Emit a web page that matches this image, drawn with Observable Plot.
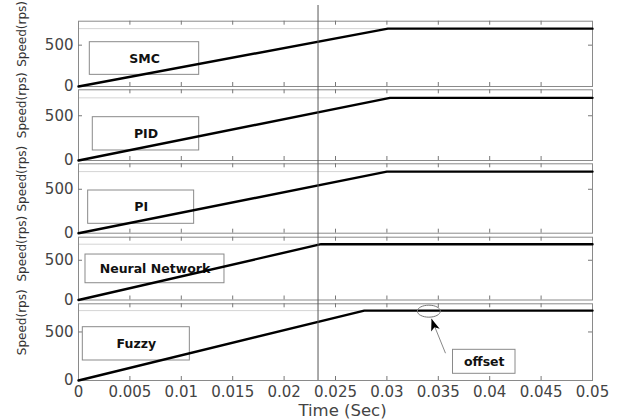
<!DOCTYPE html>
<html><head><meta charset="utf-8">
<script src="https://cdn.jsdelivr.net/npm/d3@7"></script>
<script src="https://cdn.jsdelivr.net/npm/@observablehq/plot@0.6"></script>
<style>
html,body{margin:0;padding:0;background:#fff;}
#chart{position:relative;width:628px;height:420px;overflow:hidden;background:#fff;}
#chart svg{position:absolute;left:0;top:0;}
</style></head><body><div id="chart"></div>
<script>
// ---------- data ----------
const controllers = ["SMC", "PID", "PI", "Neural Network", "Fuzzy"];
const rampEndTime = [0.0301, 0.0303, 0.0300, 0.0236, 0.0278];
const finalSpeed = [700, 700, 701, 702, 720];
const startTime = 0;
const startSpeed = 0;
const endTime = 0.05;
const markerTime = 0.0233;
const xTicks = [0, 0.005, 0.01, 0.015, 0.02, 0.025, 0.03, 0.035, 0.04, 0.045, 0.05];
const xTickLabels = ["0", "0.005", "0.01", "0.015", "0.02", "0.025", "0.03", "0.035", "0.04", "0.045", "0.05"];
const yTicks = [0, 500];
const yTickLabels = ["0", "500"];
const yMax = 790;
const yLabel = "Speed(rps)";
const xLabel = "Time (Sec)";
// label boxes (time, speed units)
const boxT1 = [0.0011, 0.00139, 0.00094, 0.00068, 0.00042];
const boxT2 = [0.01174, 0.01174, 0.01125, 0.0142, 0.01083];
const boxS1 = [141, 112, 107, 211, 206];
const boxS2 = [536, 484, 486, 572, 549];
// offset annotation (Fuzzy panel)
const offsetText = "offset";
const offsetCircle = {t: 0.03408, v: 714};
const offsetArrow = {t1: 0.0357, v1: 281, t2: 0.03434, v2: 636};
const offsetBox = {t1: 0.03643, t2: 0.04251, v1: 69, v2: 316};

// ---------- layout ----------
const W = 628, H = 420, ML = 78, MR = 36;
const panelTop = [20.7, 89.3, 163.3, 236.7, 303.3];
const panelBottom = [86, 160, 232.7, 299.5, 380];
const baseStyle = {background: "transparent", fontFamily: "DejaVu Sans, sans-serif", fontSize: "15px", color: "#444", overflow: "visible"};

const ellipseSymbol = {draw(ctx) {
  const rx = 11.5, ry = 6, k = 0.5523;
  ctx.moveTo(rx, 0);
  ctx.bezierCurveTo(rx, ry * k, rx * k, ry, 0, ry);
  ctx.bezierCurveTo(-rx * k, ry, -rx, ry * k, -rx, 0);
  ctx.bezierCurveTo(-rx, -ry * k, -rx * k, -ry, 0, -ry);
  ctx.bezierCurveTo(rx * k, -ry, rx, -ry * k, rx, 0);
  ctx.closePath();
}};
const headSymbol = {draw(ctx) {
  ctx.moveTo(0, 0); ctx.lineTo(-4.5, 12); ctx.lineTo(0, 9); ctx.lineTo(4.5, 12); ctx.closePath();
}};

const chart = document.getElementById("chart");
const innerX = xTicks.filter(d => d > 0 && d < endTime);

controllers.forEach((name, i) => {
  const top = panelTop[i], bottom = panelBottom[i], h = bottom - top, w = W - ML - MR;
  const series = [
    {t: startTime, v: startSpeed},
    {t: rampEndTime[i], v: finalSpeed[i]},
    {t: endTime, v: finalSpeed[i]}
  ];
  const box = [{t1: boxT1[i], t2: boxT2[i], v1: boxS1[i], v2: boxS2[i], name}];
  const marks = [
    Plot.ruleY([finalSpeed[i]], {y: d => d, stroke: "#d4d4d4", strokeWidth: 1}),
    Plot.frame({stroke: "#8a8a8a"}),
    Plot.tickX(innerX, {x: d => d, insetTop: h - 4, stroke: "#777"}),
    Plot.tickX(innerX, {x: d => d, insetBottom: h - 4, stroke: "#777"}),
    Plot.tickY([500], {y: d => d, insetLeft: w - 4, stroke: "#777"}),
    Plot.tickY([500], {y: d => d, insetRight: w - 4, stroke: "#777"}),
    Plot.axisY(yTicks, {tickSize: 0, tickPadding: 5, tickFormat: d => yTickLabels[yTicks.indexOf(d)], label: null}),
    Plot.rect(box, {x1: "t1", x2: "t2", y1: "v1", y2: "v2", fill: "none", stroke: "#8a8a8a", strokeWidth: 1}),
    Plot.text(box, {x: d => (d.t1 + d.t2) / 2, y: d => (d.v1 + d.v2) / 2, text: "name", fontWeight: "bold", fontSize: 12.5, fill: "#111"}),
    Plot.line(series, {x: "t", y: "v", stroke: "#000", strokeWidth: 2.4}),
    Plot.text([yLabel], {frameAnchor: "left", text: d => d, rotate: -90, dx: -56, dy: 13, fontSize: 12, fill: "#333"})
  ];
  if (i === controllers.length - 1) {
    marks.push(
      Plot.axisX(xTicks, {tickSize: 0, tickPadding: 6, tickFormat: d => xTickLabels[xTicks.indexOf(d)], label: null}),
      Plot.text([xLabel], {frameAnchor: "bottom", lineAnchor: "middle", text: d => d, dx: 7, dy: 30, fontSize: 16.5, fill: "#444"}),
      Plot.dot([offsetCircle], {x: "t", y: "v", symbol: ellipseSymbol, stroke: "#777", fill: "none", strokeWidth: 1}),
      Plot.link([offsetArrow], {x1: "t1", y1: "v1", x2: "t2", y2: "v2", stroke: "#888", strokeWidth: 1}),
      Plot.dot([offsetArrow], {x: "t2", y: "v2", symbol: headSymbol, fill: "#000", stroke: "none", rotate: -19}),
      Plot.rect([offsetBox], {x1: "t1", x2: "t2", y1: "v1", y2: "v2", fill: "#fff", stroke: "#8a8a8a"}),
      Plot.text([offsetBox], {x: d => (d.t1 + d.t2) / 2, y: d => (d.v1 + d.v2) / 2, text: () => offsetText, fontWeight: "bold", fontSize: 12.5, fill: "#111"})
    );
  }
  const svg = Plot.plot({
    width: W, height: H,
    marginLeft: ML, marginRight: MR, marginTop: top, marginBottom: H - bottom,
    x: {domain: [0, endTime], axis: null},
    y: {domain: [0, yMax], axis: null},
    style: baseStyle,
    marks
  });
  chart.appendChild(svg);
});

// vertical marker line across all panels
chart.appendChild(Plot.plot({
  width: W, height: H,
  marginLeft: ML, marginRight: MR, marginTop: 5, marginBottom: H - panelBottom[4],
  x: {domain: [0, endTime], axis: null},
  style: baseStyle,
  marks: [Plot.ruleX([markerTime], {x: d => d, stroke: "#555", strokeWidth: 1})]
}));
</script></body></html>
